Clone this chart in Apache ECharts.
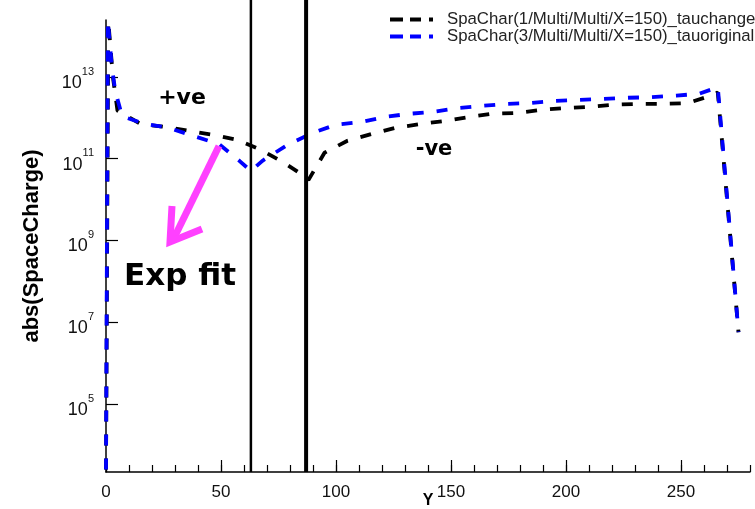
<!DOCTYPE html>
<html><head><meta charset="utf-8">
<script src="https://cdn.jsdelivr.net/npm/echarts@6/dist/echarts.min.js"></script>
<style>html,body{margin:0;padding:0;background:#fff}#c{width:755px;height:509px}</style>
</head><body><div id="c"></div>
<script>
// ---- data ----
const seriesNames = ['SpaChar(1/Multi/Multi/X=150)_tauchange', 'SpaChar(3/Multi/Multi/X=150)_tauoriginal'];
const xTauChange = [0, 1, 3, 5, 15, 26, 36, 46, 57, 67, 78, 87, 88, 95, 105, 116, 126, 137, 148, 158, 168, 179, 190, 200, 211, 221, 232, 242, 253, 263, 266, 275];
const yTauChange = [2.5e3, 2.3e14, 1.0e13, 1.5e12, 7.1e11, 6.0e11, 4.8e11, 3.9e11, 2.9e11, 1.7e11, 7.6e10, 3.5e10, 3.0e10, 1.4e11, 2.75e11, 4.1e11, 5.75e11, 7.1e11, 8.5e11, 1.05e12, 1.26e12, 1.32e12, 1.58e12, 1.74e12, 1.86e12, 2.1e12, 2.2e12, 2.2e12, 2.3e12, 3.5e12, 4.2e12, 5.7e6];
const xTauOriginal = [0, 0.8, 2.5, 4, 7, 9, 17, 27, 38, 49, 58, 63, 68, 79, 90, 100, 111, 121, 132, 142, 153, 163, 174, 184, 195, 206, 216, 227, 237, 248, 258, 266, 275];
const yTauOriginal = [2.5e3, 2.4e14, 1.9e13, 4.6e12, 1.1e12, 1.0e12, 7.1e11, 5.75e11, 3.6e11, 2.3e11, 8.9e10, 5.0e10, 8.9e10, 2.2e11, 4.3e11, 6.8e11, 7.9e11, 1.05e12, 1.26e12, 1.4e12, 1.74e12, 1.95e12, 2.2e12, 2.3e12, 2.6e12, 2.75e12, 2.9e12, 3.1e12, 3.2e12, 3.5e12, 3.9e12, 5.6e12, 5.7e6];
const xMajorTicks = [0, 50, 100, 150, 200, 250];
const yTickValues = [1e5, 1e7, 1e9, 1e11, 1e13];
const verticalMarkers = [63, 87];
const verticalMarkerWidths = [2.5, 4];
const annotations = ['+ve', '-ve', 'Exp fit'];

const X_MIN = 0, X_MAX = 280;
const Y_MIN = 2168, Y_MAX = 2.477e14;

function pairs(xs, ys) { return xs.map((x, i) => [x, ys[i]]); }

const dashIcon = 'path://M0,0H13V4H0Z M20,0H31V4H20Z M39,0H43V4H39Z';
const FONT = 'Liberation Sans';

const chart = echarts.init(document.getElementById('c'), null, { renderer: 'canvas' });
const option = {
  animation: false,
  backgroundColor: '#fff',
  grid: { left: 106, right: 5, top: 20, bottom: 37, containLabel: false, outerBoundsMode: 'none' },
  legend: {
    orient: 'vertical', left: 385, top: 6, itemGap: 0, itemWidth: 43, itemHeight: 4,
    selectedMode: false,
    data: seriesNames.map(n => ({ name: n, icon: dashIcon })),
    textStyle: { fontSize: 16.8, fontFamily: FONT, color: '#222', padding: [0, 0, 0, 9] }
  },
  xAxis: [
    {
      type: 'value', min: X_MIN, max: X_MAX, interval: 50, position: 'bottom',
      axisLine: { show: true, lineStyle: { color: '#000', width: 1.5 } },
      axisTick: { show: true, inside: true, length: 12, customValues: xMajorTicks, lineStyle: { color: '#000', width: 1.2 } },
      axisLabel: { customValues: xMajorTicks, fontSize: 17, fontFamily: FONT, color: '#111', margin: 12 },
      splitLine: { show: false },
      name: 'Y', nameLocation: 'middle', nameGap: 21, nameMoveOverlap: false,
      nameTextStyle: { fontSize: 16, fontWeight: 'bold', fontFamily: FONT, color: '#000' }
    },
    {
      type: 'value', min: X_MIN, max: X_MAX, interval: 10, position: 'bottom',
      axisLine: { show: false },
      axisTick: { show: true, inside: true, length: 7, lineStyle: { color: '#000', width: 1.2 } },
      axisLabel: { show: false },
      splitLine: { show: false }
    }
  ],
  yAxis: {
    type: 'log', logBase: 10, min: Y_MIN, max: Y_MAX,
    axisLine: { show: true, lineStyle: { color: '#000', width: 1.5 } },
    axisTick: { show: true, inside: true, length: 12, customValues: yTickValues, lineStyle: { color: '#000', width: 1.2 } },
    axisLabel: {
      customValues: yTickValues, margin: 12, padding: [4, 0, 0, 0],
      formatter: v => '{b|10}{s|' + Math.round(Math.log10(v)) + '}',
      rich: {
        b: { fontSize: 18, fontFamily: FONT, color: '#111', lineHeight: 26, verticalAlign: 'bottom' },
        s: { fontSize: 11, fontFamily: FONT, color: '#111', verticalAlign: 'top' }
      }
    },
    splitLine: { show: false },
    name: 'abs(SpaceCharge)', nameLocation: 'middle', nameGap: 63, nameMoveOverlap: false,
    nameTextStyle: { fontSize: 22, fontWeight: 'bold', fontFamily: FONT, color: '#000' }
  },
  series: [
    {
      name: seriesNames[0], type: 'line', xAxisIndex: 0, data: pairs(xTauChange, yTauChange),
      symbol: 'none', color: '#000', z: 2,
      lineStyle: { color: '#000', width: 3.8, type: [11, 13] }
    },
    {
      name: seriesNames[1], type: 'line', xAxisIndex: 0, data: pairs(xTauOriginal, yTauOriginal),
      symbol: 'none', color: '#0000ff', z: 3,
      lineStyle: { color: '#0000ff', width: 3.8, type: [11, 13] }
    }
  ]
};
chart.setOption(option);

// vertical marker lines (positions from data through the axis scale), decorations
const bottomPx = chart.convertToPixel({ yAxisIndex: 0 }, Y_MIN);
const graphics = verticalMarkers.map((xv, i) => {
  const px = chart.convertToPixel({ xAxisIndex: 0 }, xv);
  return { type: 'line', z: 10, shape: { x1: px, y1: 0, x2: px, y2: bottomPx }, style: { stroke: '#000', lineWidth: verticalMarkerWidths[i] } };
});
graphics.push(
  { type: 'text', z: 20, x: 182, y: 98, style: { text: annotations[0], font: 'bold 22px "DejaVu Sans"', fill: '#000', align: 'center', verticalAlign: 'middle' } },
  { type: 'text', z: 20, x: 434, y: 150, style: { text: annotations[1], font: 'bold 21px "DejaVu Sans"', fill: '#000', align: 'center', verticalAlign: 'middle' } },
  { type: 'text', z: 20, x: 180, y: 277, style: { text: annotations[2], font: 'bold 31px "DejaVu Sans"', fill: '#000', align: 'center', verticalAlign: 'middle' } },
  { type: 'polyline', z: 20, shape: { points: [[219, 146], [174, 238]] }, style: { stroke: '#ff40ff', lineWidth: 7, fill: null } },
  { type: 'polyline', z: 20, shape: { points: [[172, 206], [170, 242], [202, 229]] }, style: { stroke: '#ff40ff', lineWidth: 7, fill: null, lineJoin: 'miter' } }
);
chart.setOption({ graphic: graphics });
</script>
</body></html>
